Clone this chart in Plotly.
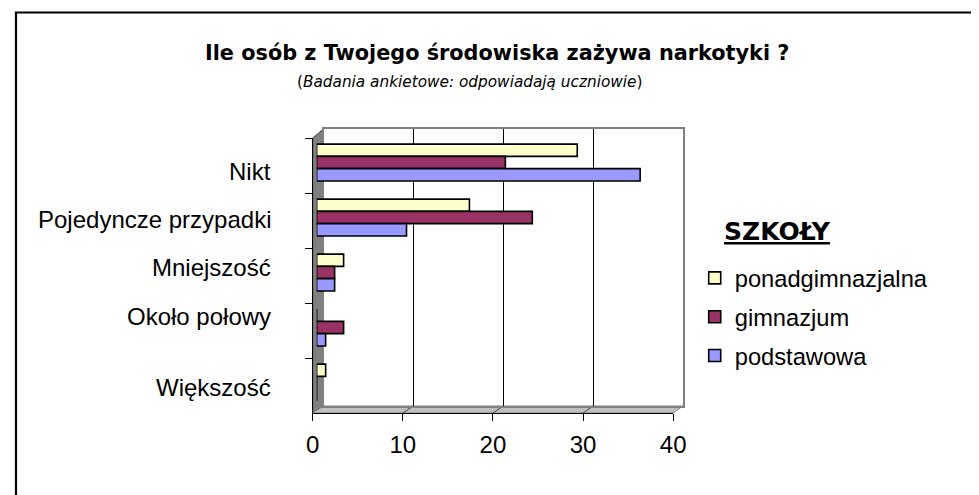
import plotly.graph_objects as go

# ---------------- data ----------------
categories = ["Nikt", "Pojedyncze przypadki", "Mniejszość", "Około połowy", "Większość"]
series_names = ["ponadgimnazjalna", "gimnazjum", "podstawowa"]
ponadgimnazjalna = [29, 17, 3, 0, 1]
gimnazjum = [21, 24, 2, 3, 0]
podstawowa = [36, 10, 2, 1, 0]
x_ticks = [0, 10, 20, 30, 40]

title_text = "Ile osób z Twojego środowiska zażywa narkotyki ?"
subtitle_text = "(<i>Badania ankietowe: odpowiadają uczniowie</i>)"
legend_title = "SZKOŁY"

colors = ["#FFFFCC", "#993366", "#9999FF"]
# vertical pixel shifts of the category labels (Excel 3-D label placement)
label_shifts = [-6, 1, 8, 14, -2]

# ---------------- layout helpers ----------------
# the page body has an 8px margin, so the figure starts at (8, 8)
OFF = 8
W, H = 979 - OFF, 495 - OFF
def px(x):
    return (x - OFF) / W
def py(y):
    return 1 - (y - OFF) / H

back_x, back_y = (323, 690), (129, 406)
front_x, front_y = (312, 680), (138, 413)
bar_x, bar_y = (316, 683), (135, 410)

fig = go.Figure()
# empty helper traces so that the back plane and the front axes are drawn
fig.add_trace(go.Scatter(x=[], y=[], xaxis="x", yaxis="y", showlegend=False, hoverinfo="skip"))
fig.add_trace(go.Scatter(x=[], y=[], xaxis="x2", yaxis="y2", showlegend=False, hoverinfo="skip"))
for name, vals, col in zip(series_names, [ponadgimnazjalna, gimnazjum, podstawowa], colors):
    fig.add_trace(go.Bar(
        x=vals, y=categories, orientation="h", name=name,
        marker=dict(color=col, line=dict(color="black", width=1.6)),
        xaxis="x3", yaxis="y3", legendgroup=name,
    ))

font_arial = "Liberation Sans, Arial, sans-serif"
font_tahoma = "DejaVu Sans, Verdana, sans-serif"

shapes = []
# outer border
shapes.append(dict(type="rect", xref="paper", yref="paper",
                   x0=px(9), y0=-0.05, x1=1.05, y1=py(12.5),
                   line=dict(color="black", width=2.2), layer="above"))
# left wall
shapes.append(dict(type="path", xref="paper", yref="paper", layer="below",
                   path=f"M{px(312)},{py(413)} L{px(312)},{py(138)} L{px(323)},{py(129)} L{px(323)},{py(406)} Z",
                   fillcolor="#808080", line=dict(color="#404040", width=1)))
# floor
shapes.append(dict(type="path", xref="paper", yref="paper", layer="below",
                   path=f"M{px(312)},{py(413)} L{px(680)},{py(413)} L{px(690)},{py(406)} L{px(323)},{py(406)} Z",
                   fillcolor="#C0C0C0", line=dict(color="#808080", width=1)))
# floor tick diagonals
for v in x_ticks[1:-1]:
    fx = front_x[0] + v * (front_x[1] - front_x[0]) / 40
    bx = back_x[0] + v * (back_x[1] - back_x[0]) / 40
    shapes.append(dict(type="line", xref="paper", yref="paper", layer="below",
                       x0=px(fx), y0=py(413), x1=px(bx), y1=py(406),
                       line=dict(color="#404040", width=1)))

annotations = [
    dict(text="<b>" + title_text + "</b>", x=px(500), y=py(53), xref="paper", yref="paper",
         xanchor="center", yanchor="middle", showarrow=False,
         font=dict(family=font_tahoma, size=20.8, color="black")),
    dict(text=subtitle_text, x=px(472), y=py(82), xref="paper", yref="paper",
         xanchor="center", yanchor="middle", showarrow=False,
         font=dict(family=font_tahoma, size=15.3, color="black")),
    dict(text="<b><u>" + legend_title + "</u></b>", x=px(787), y=py(232), xref="paper", yref="paper",
         xanchor="center", yanchor="middle", showarrow=False,
         font=dict(family=font_tahoma, size=25, color="black")),
]
for cat, sh in zip(categories, label_shifts):
    annotations.append(dict(text=cat, x=px(271), y=cat, xref="paper", yref="y2",
                            xanchor="right", yanchor="middle", yshift=sh, showarrow=False,
                            font=dict(family=font_arial, size=24, color="black")))

fig.update_layout(
    width=W, height=H,
    margin=dict(l=0, r=0, t=0, b=0),
    paper_bgcolor="white", plot_bgcolor="rgba(0,0,0,0)",
    barmode="group", bargap=0.33, bargroupgap=0,
    showlegend=True,
    legend=dict(x=px(702), y=py(256), xanchor="left", yanchor="top",
                traceorder="grouped", tracegroupgap=5,
                font=dict(family=font_arial, size=23.7, color="black"),
                bgcolor="rgba(0,0,0,0)"),
    shapes=shapes,
    annotations=annotations,
    # back plane with gridlines
    xaxis=dict(domain=[px(back_x[0]), px(back_x[1])], range=[0, 40], dtick=10,
               showgrid=True, gridcolor="black", gridwidth=1, zeroline=False,
               showticklabels=False, ticks="", showline=True, mirror=True,
               linecolor="#808080", linewidth=1.5, anchor="y", fixedrange=True),
    yaxis=dict(domain=[py(back_y[1]), py(back_y[0])], range=[0, 1], showgrid=False,
               zeroline=False, showticklabels=False, ticks="", showline=True, mirror=True,
               linecolor="#808080", linewidth=1.5, anchor="x", fixedrange=True),
    # front axes with ticks
    xaxis2=dict(domain=[px(front_x[0]), px(front_x[1])], range=[0, 40], tickvals=x_ticks,
                showgrid=False, zeroline=False, showline=True, linecolor="black", linewidth=1,
                ticks="outside", ticklen=7, tickcolor="black", ticklabelstandoff=3,
                tickfont=dict(family=font_arial, size=24, color="black"), anchor="y2"),
    yaxis2=dict(domain=[py(front_y[1]), py(front_y[0])], type="category",
                categoryorder="array", categoryarray=categories, range=[4.5, -0.5],
                showgrid=False, zeroline=False, showline=True, linecolor="black", linewidth=1,
                ticks="outside", ticklen=7, tickcolor="black", tickson="boundaries",
                showticklabels=False, anchor="x2"),
    # bars
    xaxis3=dict(domain=[px(bar_x[0]), px(bar_x[1])], range=[0, 40], visible=False, anchor="y3"),
    yaxis3=dict(domain=[py(bar_y[1]), py(bar_y[0])], type="category",
                categoryorder="array", categoryarray=categories, range=[4.5, -0.5],
                visible=False, anchor="x3"),
)

fig.write_html("out.html")
